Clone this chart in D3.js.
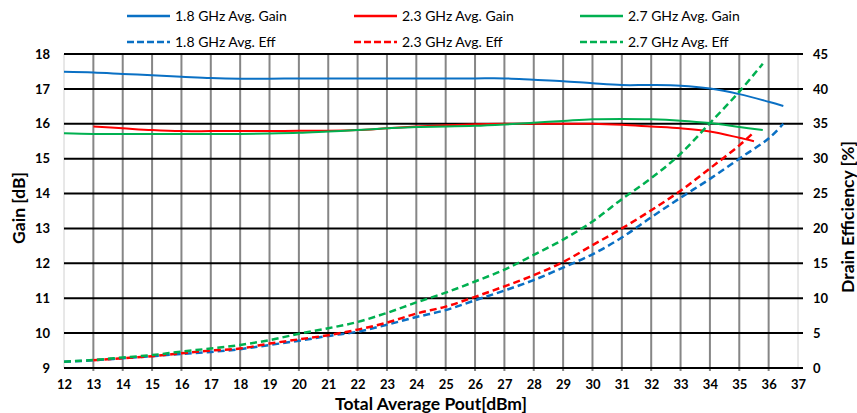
<!DOCTYPE html>
<html><head><meta charset="utf-8">
<script src="https://cdn.jsdelivr.net/npm/d3@7"></script>
<style>
body{margin:0;background:#fff}
svg{display:block}
text{font-family:Lato,"Open Sans",sans-serif}
</style>
</head><body>
<svg id="chart" width="857" height="413"></svg>
<script>
// ---- data ----
const xTickValues = d3.range(12, 38);
const gainTickValues = d3.range(9, 19);
const effTickValues = d3.range(0, 50, 5);

const pout18 = [12,13,14,15,16,17,18,19,20,21,22,23,24,25,26,27,28,29,30,31,32,33,34,35,36,36.5];
const gain18 = [17.49,17.47,17.43,17.39,17.35,17.31,17.29,17.29,17.30,17.30,17.30,17.30,17.30,17.30,17.30,17.30,17.26,17.22,17.16,17.11,17.11,17.09,17.01,16.85,16.63,16.51];
const eff18  = [0.9,1.1,1.4,1.7,2.0,2.3,2.7,3.3,3.9,4.6,5.2,6.2,7.3,8.3,9.7,11.1,12.6,14.4,16.3,18.7,21.6,24.4,27.1,30.0,32.9,35.0];

const pout23 = [13,14,15,16,17,18,19,20,21,22,23,24,25,26,27,28,29,30,31,32,33,34,35,35.5];
const gain23 = [15.92,15.87,15.82,15.79,15.79,15.79,15.79,15.80,15.80,15.82,15.87,15.92,15.96,15.99,16.0,16.0,16.0,16.0,15.97,15.92,15.87,15.78,15.6,15.5];
const eff23  = [1.1,1.4,1.7,2.1,2.5,2.8,3.5,4.1,4.7,5.5,6.5,7.8,8.8,10.2,11.7,13.3,15.2,17.6,20.0,22.6,25.4,28.6,31.9,33.8];

const pout27 = [12,13,14,15,16,17,18,19,20,21,22,23,24,25,26,27,28,29,30,31,32,33,34,35,35.8];
const gain27 = [15.73,15.71,15.71,15.71,15.71,15.71,15.71,15.72,15.74,15.78,15.82,15.87,15.91,15.92,15.94,15.98,16.03,16.08,16.13,16.14,16.13,16.09,16.02,15.91,15.82];
const eff27  = [0.9,1.15,1.5,1.85,2.35,2.8,3.3,4.0,4.9,5.7,6.6,7.9,9.4,10.8,12.4,14.1,16.2,18.4,21.0,24.2,27.2,30.7,35.1,39.6,43.6];

const seriesNames = ["1.8 GHz Avg. Gain","2.3 GHz Avg. Gain","2.7 GHz Avg. Gain","1.8 GHz Avg. Eff","2.3 GHz Avg. Eff","2.7 GHz Avg. Eff"];
const seriesColors = ["#0A70C4","#FF0000","#00B050"];

// ---- layout ----
const svg = d3.select("#chart");
const L = 64, R = 798, T = 54, B = 368;
const x = d3.scaleLinear().domain([12, 37]).range([L, R]);
const yG = d3.scaleLinear().domain([9, 18]).range([B, T]);
const yE = d3.scaleLinear().domain([0, 45]).range([B, T]);

// vertical gridlines
svg.append("g").selectAll("line").data(xTickValues.filter(v => v > 12 && v < 37)).join("line")
  .attr("x1", d => x(d)).attr("x2", d => x(d)).attr("y1", T).attr("y2", B + 3)
  .attr("stroke", "#868686").attr("stroke-width", 2);
// side axis lines
[12, 37].forEach(v => svg.append("line").attr("x1", x(v)).attr("x2", x(v)).attr("y1", T).attr("y2", B)
  .attr("stroke", "#d0d0d0").attr("stroke-width", 1));

// horizontal gridlines
svg.append("g").selectAll("line").data(gainTickValues).join("line")
  .attr("x1", L).attr("x2", R + 5).attr("y1", d => yG(d)).attr("y2", d => yG(d))
  .attr("stroke", "#000").attr("stroke-width", 2);

// axes (labels only)
const tickFont = g => g.selectAll("text").attr("font-size", 13).attr("font-weight", 700).attr("fill", "#000").attr("font-family", "Lato");
const xAxis = svg.append("g").attr("transform", `translate(0,${B})`)
  .call(d3.axisBottom(x).tickValues(xTickValues).tickFormat(d3.format("d")).tickSize(0).tickPadding(12));
xAxis.select(".domain").remove(); xAxis.call(tickFont);
const yAxisL = svg.append("g").attr("transform", `translate(${L},0)`)
  .call(d3.axisLeft(yG).tickValues(gainTickValues).tickFormat(d3.format("d")).tickSize(0).tickPadding(14));
yAxisL.select(".domain").remove(); yAxisL.call(tickFont);
const yAxisR = svg.append("g").attr("transform", `translate(${R},0)`)
  .call(d3.axisRight(yE).tickValues(effTickValues).tickFormat(d3.format("d")).tickSize(0).tickPadding(15));
yAxisR.select(".domain").remove(); yAxisR.call(tickFont);

// axis titles
svg.append("text").attr("transform", `translate(25,${(T + B) / 2 - 3}) rotate(-90)`).attr("text-anchor", "middle")
  .attr("font-size", 17.5).attr("font-weight", 700).text("Gain [dB]");
svg.append("text").attr("transform", `translate(854,${(T + B) / 2 + 6}) rotate(-90)`).attr("text-anchor", "middle")
  .attr("font-size", 17.5).attr("font-weight", 700).text("Drain Efficiency [%]");
svg.append("text").attr("x", (L + R) / 2).attr("y", 410).attr("text-anchor", "middle")
  .attr("font-size", 17.5).attr("font-weight", 700).text("Total Average Pout[dBm]");

// series
const curve = d3.curveCatmullRom.alpha(0.5);
const gainLine = d3.line().x(d => x(d[0])).y(d => yG(d[1])).curve(curve);
const effLine = d3.line().x(d => x(d[0])).y(d => yE(d[1])).curve(curve);
const gains = [[pout18, gain18], [pout23, gain23], [pout27, gain27]];
const effs = [[pout18, eff18], [pout23, eff23], [pout27, eff27]];
gains.forEach((s, i) => svg.append("path").datum(d3.zip(s[0], s[1])).attr("d", gainLine)
  .attr("fill", "none").attr("stroke", seriesColors[i]).attr("stroke-width", 2));
effs.forEach((s, i) => svg.append("path").datum(d3.zip(s[0], s[1])).attr("d", effLine)
  .attr("fill", "none").attr("stroke", seriesColors[i]).attr("stroke-width", 2.5).attr("stroke-dasharray", "7,4"));

// legend
const legX = [127, 354, 580], legY = [16, 42];
seriesNames.forEach((name, i) => {
  const col = i % 3, row = Math.floor(i / 3);
  const g = svg.append("g").attr("transform", `translate(${legX[col]},${legY[row]})`);
  g.append("line").attr("x1", 0).attr("x2", 43).attr("y1", 0).attr("y2", 0)
    .attr("stroke", seriesColors[col]).attr("stroke-width", 2.5)
    .attr("stroke-dasharray", row ? "7,3" : null);
  g.append("text").attr("x", 48).attr("y", 5).attr("font-size", 14).attr("fill", "#000").text(name);
});
</script>
</body></html>
